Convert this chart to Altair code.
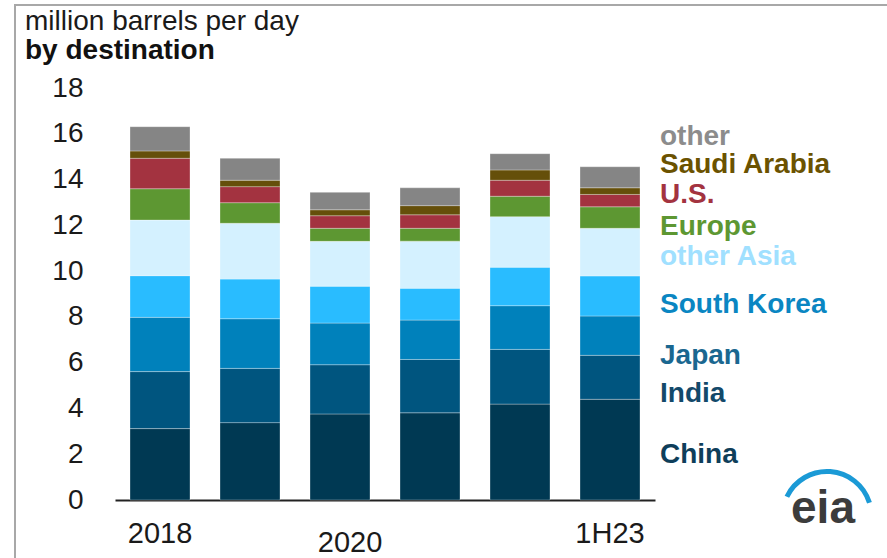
import altair as alt
import pandas as pd

years = ["2018", "2019", "2020", "2021", "2022", "1H23"]
series = ["China", "India", "Japan", "South Korea", "other Asia",
          "Europe", "U.S.", "Saudi Arabia", "other"]

china = [3.12, 3.38, 3.76, 3.81, 4.19, 4.40]
india = [2.49, 2.37, 2.15, 2.33, 2.39, 1.92]
japan = [2.37, 2.17, 1.82, 1.72, 1.91, 1.72]
south_korea = [1.82, 1.73, 1.61, 1.39, 1.68, 1.75]
other_asia = [2.43, 2.44, 1.96, 2.06, 2.21, 2.08]
europe = [1.37, 0.90, 0.57, 0.56, 0.89, 0.94]
us = [1.33, 0.70, 0.55, 0.59, 0.70, 0.54]
saudi = [0.32, 0.28, 0.26, 0.40, 0.45, 0.29]
other = [1.06, 0.96, 0.76, 0.78, 0.71, 0.92]

tick_labels = ["2018", "2020", "1H23"]
# where each series name sits, in million barrels per day
label_anchor = [1.97, 4.63, 6.29, 8.52, 10.63, 11.94, 13.32, 14.64, 15.87]

bar_colors = ["#003953", "#00557F", "#0081BB", "#29BCFF", "#D4F1FF",
              "#5D9732", "#A33340", "#654F0A", "#858585"]
label_colors = ["#0E3E5A", "#13496A", "#1A6790", "#0A86C2", "#A0E0FF",
                "#5D9732", "#A33340", "#6B5200", "#8C8C8C"]

all_vals = [china, india, japan, south_korea, other_asia, europe, us, saudi, other]
rows = []
for i, (s, vals) in enumerate(zip(series, all_vals)):
    for y, v in zip(years, vals):
        rows.append({"year": y, "series": s, "value": v, "order": i})
df = pd.DataFrame(rows)

lab_df = pd.DataFrame({"series": series, "anchor": label_anchor, "lc": label_colors})
xlab_df = pd.DataFrame({"year": tick_labels})

FONT = "Liberation Sans"

x_axis = alt.Axis(title=None, labels=False, ticks=False, domain=True,
                  domainColor="#222222", domainWidth=2, grid=False)
y_axis = alt.Axis(title=None, values=list(range(0, 19, 2)), domain=False, ticks=False,
                  grid=False, labelFontSize=28, labelPadding=32, labelColor="#1a1a1a",
                  labelFont=FONT)
x_scale = alt.Scale(domain=years, paddingInner=1 / 3, paddingOuter=1 / 6)
y_scale = alt.Scale(domain=[0, 18], nice=False)

bars = alt.Chart(df).mark_bar(stroke="#ffffff", strokeWidth=0.6, strokeOpacity=0.5).encode(
    x=alt.X("year:N", sort=years, scale=x_scale, axis=x_axis),
    y=alt.Y("value:Q", stack="zero", scale=y_scale, axis=y_axis),
    color=alt.Color("series:N", scale=alt.Scale(domain=series, range=bar_colors), legend=None),
    order=alt.Order("order:Q", sort="ascending"),
)

xlab_main = alt.Chart(xlab_df).transform_filter(
    alt.datum.year != "2020"
).mark_text(fontSize=29, font=FONT, color="#1a1a1a", baseline="alphabetic").encode(
    x=alt.X("year:N", sort=years, scale=x_scale, axis=x_axis),
    y=alt.value(455),
    text="year:N",
)
xlab_2020 = alt.Chart(xlab_df).transform_filter(
    alt.datum.year == "2020"
).mark_text(fontSize=29, font=FONT, color="#1a1a1a", baseline="alphabetic", dx=10).encode(
    x=alt.X("year:N", sort=years, scale=x_scale, axis=x_axis),
    y=alt.value(464),
    text="year:N",
)

series_labels = alt.Chart(lab_df).mark_text(
    fontSize=28, font=FONT, fontWeight="bold", align="left", baseline="middle"
).encode(
    x=alt.value(545),
    y=alt.Y("anchor:Q", scale=y_scale, axis=y_axis),
    text="series:N",
    color=alt.Color("lc:N", scale=None),
)

title1 = alt.Chart(pd.DataFrame({"t": ["million barrels per day"]})).mark_text(
    fontSize=28, font=FONT, align="left", baseline="alphabetic", color="#1a1a1a"
).encode(x=alt.value(-90), y=alt.value(-58), text="t:N")

title2 = alt.Chart(pd.DataFrame({"t": ["by destination"]})).mark_text(
    fontSize=28, font=FONT, fontWeight="bold", align="left", baseline="alphabetic", color="#111111"
).encode(x=alt.value(-90), y=alt.value(-29), text="t:N")

logo_text = alt.Chart(pd.DataFrame({"t": ["eia"]})).mark_text(
    fontSize=46, font=FONT, fontWeight="bold", align="center", baseline="alphabetic", color="#3C3C3C"
).encode(x=alt.value(708), y=alt.value(435), text="t:N")

logo_arc = alt.Chart(pd.DataFrame({"t": ["eia"]})).mark_arc(color="#1B9AD6").encode(
    x=alt.value(712), y=alt.value(428),
    theta=alt.value(5.16), theta2=alt.value(7.55),
    radius=alt.value(47), radius2=alt.value(42),
)

frame_top = alt.Chart(pd.DataFrame({"t": [0]})).mark_rule(color="#A8A8A8", strokeWidth=2).encode(
    x=alt.value(-100), x2=alt.value(772), y=alt.value(-83)
)
frame_left = alt.Chart(pd.DataFrame({"t": [0]})).mark_rule(color="#A8A8A8", strokeWidth=2).encode(
    x=alt.value(-100), y=alt.value(-84), y2=alt.value(470)
)

chart = alt.layer(
    bars, xlab_main, xlab_2020, series_labels, title1, title2,
    logo_arc, logo_text, frame_top, frame_left
).properties(
    width=540, height=412,
    padding={"left": 115, "top": 88, "right": 232, "bottom": 58},
    autosize="none",
    background="white",
).configure_view(stroke=None)

chart.save("out.html", embed_options={"renderer": "svg", "actions": False})
